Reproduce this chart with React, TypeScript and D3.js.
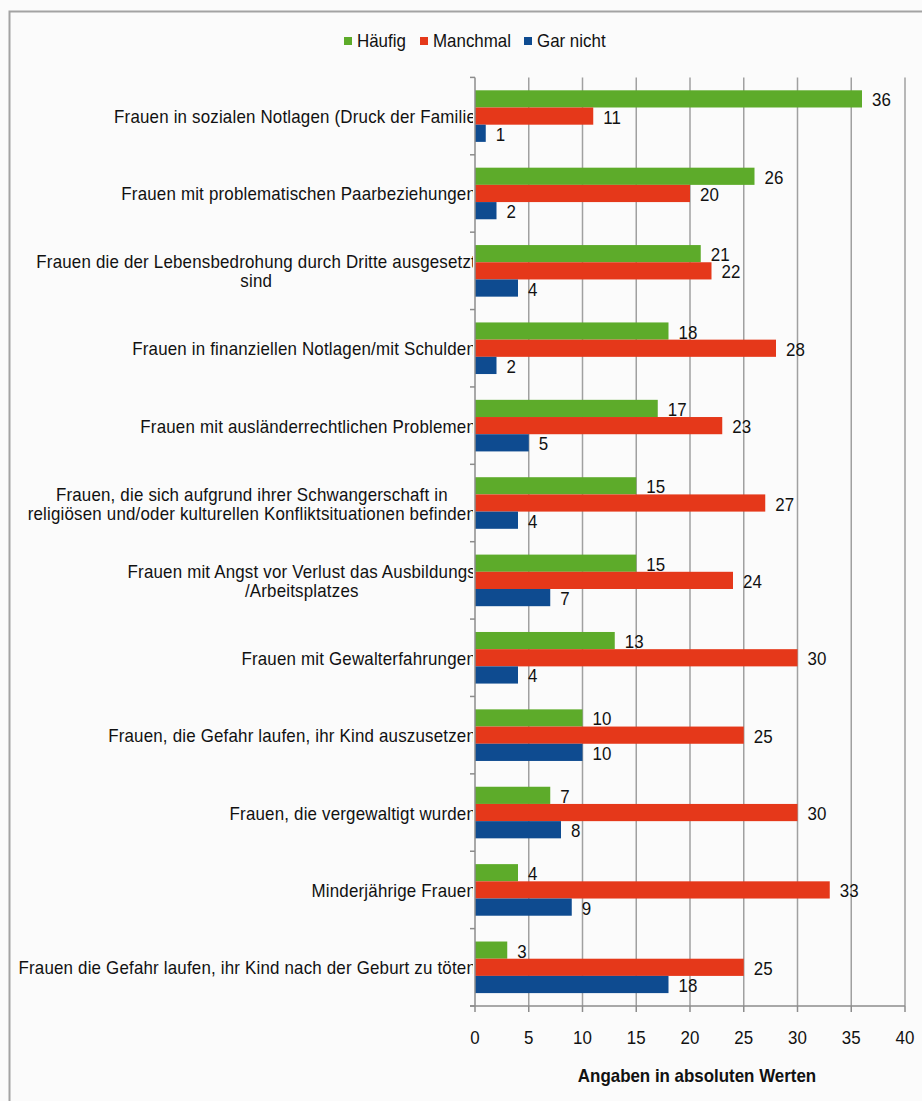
import React, { useEffect, useRef } from "react";
import * as d3 from "d3";

const categories: string[][] = [
  ["Frauen in sozialen Notlagen (Druck der Familie"],
  ["Frauen mit problematischen Paarbeziehungen"],
  ["Frauen die der Lebensbedrohung durch Dritte ausgesetzt", "sind"],
  ["Frauen in finanziellen Notlagen/mit Schulden"],
  ["Frauen mit ausländerrechtlichen  Problemen"],
  ["Frauen, die sich aufgrund ihrer Schwangerschaft in", "religiösen und/oder kulturellen  Konfliktsituationen befinden"],
  ["Frauen mit Angst vor Verlust das Ausbildungs", "/Arbeitsplatzes"],
  ["Frauen mit Gewalterfahrungen"],
  ["Frauen, die Gefahr laufen, ihr Kind auszusetzen"],
  ["Frauen, die vergewaltigt wurden"],
  ["Minderjährige Frauen"],
  ["Frauen die Gefahr laufen, ihr Kind nach der Geburt zu töten"],
];
const haeufig = [36, 26, 21, 18, 17, 15, 15, 13, 10, 7, 4, 3];
const manchmal = [11, 20, 22, 28, 23, 27, 24, 30, 25, 30, 33, 25];
const garNicht = [1, 2, 4, 2, 5, 4, 7, 4, 10, 8, 9, 18];
const seriesNames = ["Häufig", "Manchmal", "Gar nicht"];
const seriesColors = ["#5dab2a", "#e5381a", "#0e4b90"];
const xTicks = [0, 5, 10, 15, 20, 25, 30, 35, 40];
const axisTitle = "Angaben in absoluten Werten";

const W = 922;
const H = 1101;
const FONT = "'Liberation Sans', Arial, sans-serif";
const SX = 0.94;

export default function App() {
  const ref = useRef<SVGSVGElement | null>(null);

  useEffect(() => {
    document.body.style.margin = "0";
    const svg = d3.select(ref.current);
    svg.selectAll("*").remove();

    const left = 475, right = 905, top = 77.4, bottom = 1006;
    const x = d3.scaleLinear().domain([0, 40]).range([left, right]);
    const idx = categories.map((_, i) => String(i));
    const y = d3.scaleBand().domain(idx).range([top, bottom]).paddingInner(0).paddingOuter(0);
    const ys = d3.scaleBand().domain(seriesNames).range([0, y.bandwidth()]).paddingInner(0).paddingOuter(0.75);
    const values = [haeufig, manchmal, garNicht];
    const sx = (v: number) => v / SX;

    svg.append("rect").attr("x", 0).attr("y", 0).attr("width", W).attr("height", H).attr("fill", "#fbfbfb");
    svg.append("path")
      .attr("d", `M9.5,${H} V11.5 H${W}`)
      .attr("fill", "none").attr("stroke", "#a3a3a3").attr("stroke-width", 2);

    const defs = svg.append("defs");
    defs.append("clipPath").attr("id", "lblclip")
      .append("rect").attr("x", 0).attr("y", 0).attr("width", sx(473)).attr("height", H);

    const g = svg.append("g");
    g.selectAll("line.grid").data(xTicks.filter(t => t > 0)).enter().append("line")
      .attr("x1", d => x(d)).attr("x2", d => x(d))
      .attr("y1", top).attr("y2", bottom)
      .attr("stroke", "#a0a0a0").attr("stroke-width", 1.5);

    values.forEach((vals, si) => {
      g.selectAll(`rect.s${si}`).data(vals).enter().append("rect")
        .attr("x", x(0))
        .attr("y", (d, i) => (y(String(i)) as number) + (ys(seriesNames[si]) as number))
        .attr("width", d => x(d) - x(0))
        .attr("height", ys.bandwidth())
        .attr("fill", seriesColors[si]);
    });

    const axisColor = "#8c8c8c";
    g.append("line").attr("x1", left).attr("x2", left).attr("y1", top).attr("y2", bottom)
      .attr("stroke", axisColor).attr("stroke-width", 1.5);
    g.selectAll("line.ytick").data(d3.range(categories.length + 1)).enter().append("line")
      .attr("x1", left - 5).attr("x2", left)
      .attr("y1", d => top + d * y.step()).attr("y2", d => top + d * y.step())
      .attr("stroke", axisColor).attr("stroke-width", 1.5);
    g.append("line").attr("x1", left - 5).attr("x2", right).attr("y1", bottom).attr("y2", bottom)
      .attr("stroke", axisColor).attr("stroke-width", 1.5);
    g.selectAll("line.xtick").data(xTicks).enter().append("line")
      .attr("x1", d => x(d)).attr("x2", d => x(d))
      .attr("y1", bottom).attr("y2", bottom + 6)
      .attr("stroke", axisColor).attr("stroke-width", 1.5);

    const txt = svg.append("g").attr("font-family", FONT).attr("fill", "#111")
      .attr("transform", `scale(${SX},1)`);

    txt.selectAll("text.xt").data(xTicks).enter().append("text")
      .attr("x", d => sx(x(d))).attr("y", 1044)
      .attr("text-anchor", "middle").attr("font-size", 18)
      .text(d => String(d));

    txt.append("text").attr("x", sx(697)).attr("y", 1082).attr("text-anchor", "middle")
      .attr("font-size", 18).attr("font-weight", "bold").text(axisTitle);

    values.forEach((vals, si) => {
      txt.selectAll(`text.v${si}`).data(vals).enter().append("text")
        .attr("x", d => sx(x(d) + 10))
        .attr("y", (d, i) => (y(String(i)) as number) + (ys(seriesNames[si]) as number) + ys.bandwidth() / 2 + 7.5)
        .attr("font-size", 18)
        .text(d => String(d));
    });

    const lblG = txt.append("g").attr("clip-path", "url(#lblclip)");
    const R = 476;
    const lineH = 19;
    categories.forEach((lines, i) => {
      const cy = (y(String(i)) as number) + y.bandwidth() / 2;
      const t = lblG.append("text").attr("font-size", 18).attr("text-anchor", "middle")
        .attr("letter-spacing", 0.2);
      const spans = lines.map((ln, k) =>
        t.append("tspan").attr("x", 0).attr("y", cy + 7 + (k - (lines.length - 1) / 2) * lineH).text(ln)
      );
      const widths = spans.map(s => (s.node() as SVGTSpanElement).getComputedTextLength());
      const maxW = Math.max(...widths);
      const cx = sx(R) - maxW / 2;
      spans.forEach(s => s.attr("x", cx));
    });

    const legX = [344, 420, 524];
    seriesNames.forEach((n, si) => {
      svg.append("rect").attr("x", legX[si]).attr("y", 37).attr("width", 8).attr("height", 8).attr("fill", seriesColors[si]);
      txt.append("text").attr("x", sx(legX[si] + 13)).attr("y", 47).attr("font-size", 18).text(n);
    });
  }, []);

  return <svg ref={ref} width={W} height={H} style={{ display: "block" }} />;
}
